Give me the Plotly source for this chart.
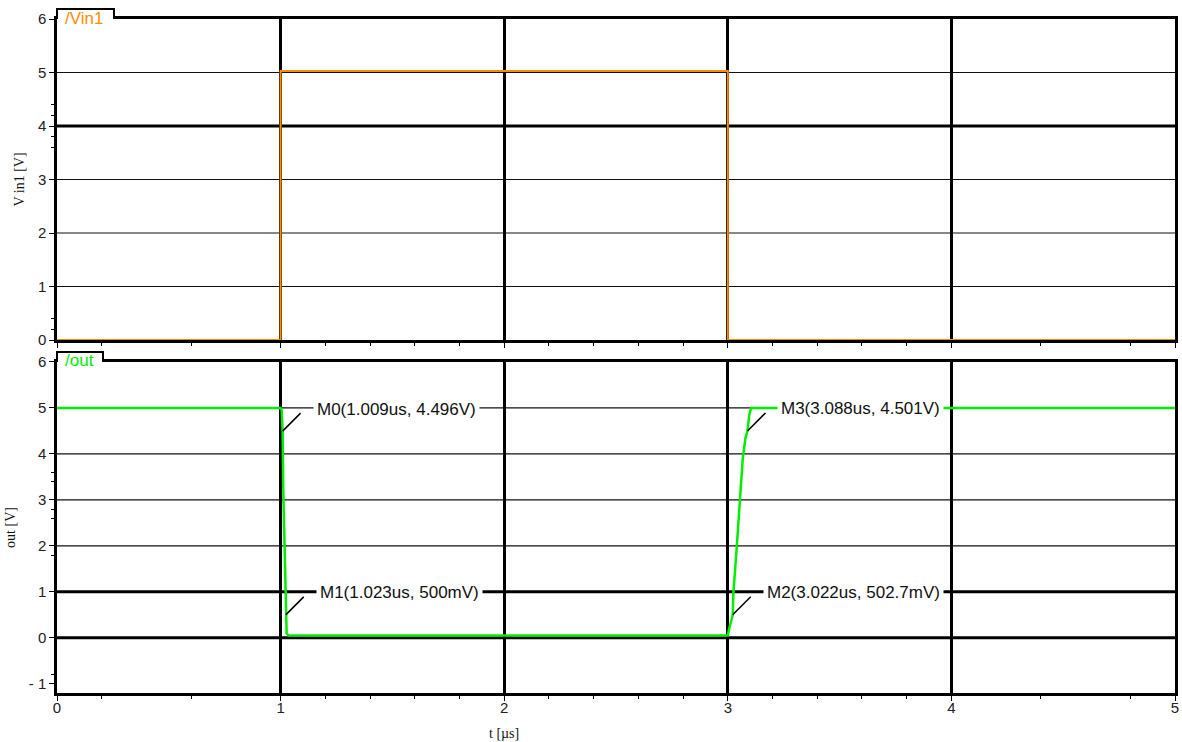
import plotly.graph_objects as go

# ---- data ----
t_vin = [0.0, 1.0, 1.0, 3.0, 3.0, 5.0]
v_vin = [0.0, 0.0, 5.03, 5.03, 0.0, 0.0]

t_out = [0.0, 1.0, 1.005, 1.009, 1.012, 1.018, 1.023, 1.027, 1.035,
         3.0, 3.006, 3.012, 3.017, 3.022, 3.025, 3.04, 3.055, 3.067, 3.079,
         3.088, 3.096, 3.104, 3.16, 5.0]
v_out = [5.0, 5.0, 4.95, 4.496, 3.2, 2.0, 0.5, 0.1, 0.05,
         0.05, 0.2, 0.35, 0.4, 0.5027, 0.97, 1.97, 2.97, 3.91, 4.35,
         4.501, 4.85, 5.0, 5.0, 5.0]

marker_t = [1.009, 1.023, 3.022, 3.088]
marker_v = [4.496, 0.5, 0.5027, 4.501]
marker_text = ["M0(1.009us, 4.496V)", "M1(1.023us, 500mV)",
               "M2(3.022us, 502.7mV)", "M3(3.088us, 4.501V)"]

x_ticks = [0, 1, 2, 3, 4, 5]
x_minor = [0.2, 0.6, 1.2, 1.4, 1.6, 1.8, 2.2, 2.4, 2.6, 2.8,
           3.2, 3.4, 3.6, 3.8, 4.4, 4.8]
y1_ticks = [0, 1, 2, 3, 4, 5, 6]
y1_minor = [0.2, 0.4, 3.6, 3.8, 4.2, 4.4]
y1_thin_grid = [1, 2, 3, 5]
y1_thick_grid = [4]
y2_ticks = [-1, 0, 1, 2, 3, 4, 5, 6]
y2_ticktext = ["- 1", "0", "1", "2", "3", "4", "5", "6"]
y2_minor = [-0.8, 1.8, 2.6, 2.8, 3.4, 3.6]
y2_thin_grid = [2, 3, 4, 5]
y2_thick_grid = [0, 1]

ORANGE = "#ff8c00"
GREEN = "#00ee00"
TICKFONT = dict(family="Liberation Sans, Arial, sans-serif", size=15, color="#222222")
SERIF = dict(family="Liberation Serif, Times New Roman, serif", size=14, color="#111111")
LABELFONT = dict(family="Liberation Sans, Arial, sans-serif", size=17, color="#111111")

fig = go.Figure()
fig.add_trace(go.Scatter(x=t_vin, y=v_vin, mode="lines", xaxis="x", yaxis="y",
                         line=dict(color=ORANGE, width=2), showlegend=False, hoverinfo="skip"))
fig.add_trace(go.Scatter(x=t_out, y=v_out, mode="lines", xaxis="x2", yaxis="y2",
                         line=dict(color=GREEN, width=2.5), showlegend=False, hoverinfo="skip"))

common_x = dict(range=[0, 5], tickvals=x_ticks, showgrid=True, gridcolor="black", gridwidth=3,
                showline=True, linecolor="black", linewidth=2.5, mirror=True,
                zeroline=False, ticks="outside", ticklen=5, tickcolor="black", automargin=False,
                minor=dict(tickvals=x_minor, ticks="outside", ticklen=3, tickcolor="black", showgrid=False),
                tickfont=TICKFONT)

fig.update_layout(
    width=1182, height=742,
    margin=dict(l=57, r=7, t=19, b=49, autoexpand=False),
    paper_bgcolor="white", plot_bgcolor="white",
    xaxis=dict(common_x, domain=[0, 1], anchor="y", showticklabels=False),
    xaxis2=dict(common_x, domain=[0, 1], anchor="y2", matches="x", showticklabels=True,
                ticklabelstandoff=-6),
    yaxis=dict(domain=[0.5237, 1.0], range=[0, 6], tickvals=y1_ticks, showgrid=False,
               showline=True, linecolor="black", linewidth=2.5, mirror=True, zeroline=False,
               ticks="outside", ticklen=5, tickcolor="black", tickfont=TICKFONT, automargin=False,
               minor=dict(tickvals=y1_minor, ticks="outside", ticklen=3, tickcolor="black", showgrid=False),
               title=dict(text="V in1 [V]", font=SERIF, standoff=10)),
    yaxis2=dict(domain=[0.0, 0.4911], range=[-1.2, 6], tickvals=y2_ticks, ticktext=y2_ticktext,
                showgrid=False, showline=True, linecolor="black", linewidth=2.5, mirror=True,
                zeroline=False, ticks="outside", ticklen=5, tickcolor="black", tickfont=TICKFONT,
                automargin=False,
                minor=dict(tickvals=y2_minor, ticks="outside", ticklen=3, tickcolor="black", showgrid=False),
                title=dict(text="out [V]", font=SERIF, standoff=10)),
)

shapes = []
for yv in y1_thin_grid:
    shapes.append(dict(type="line", xref="x domain", yref="y", x0=0, x1=1, y0=yv, y1=yv,
                       line=dict(color="#111111", width=1.2), layer="below"))
for yv in y1_thick_grid:
    shapes.append(dict(type="line", xref="x domain", yref="y", x0=0, x1=1, y0=yv, y1=yv,
                       line=dict(color="black", width=3), layer="below"))
for yv in y2_thin_grid:
    shapes.append(dict(type="line", xref="x2 domain", yref="y2", x0=0, x1=1, y0=yv, y1=yv,
                       line=dict(color="#111111", width=1.2), layer="below"))
for yv in y2_thick_grid:
    shapes.append(dict(type="line", xref="x2 domain", yref="y2", x0=0, x1=1, y0=yv, y1=yv,
                       line=dict(color="black", width=3), layer="below"))

# marker diagonals
for mt, mv in zip(marker_t, marker_v):
    shapes.append(dict(type="line", xref="x2", yref="y2", xsizemode="pixel", ysizemode="pixel",
                       xanchor=mt, yanchor=mv, x0=0, x1=18, y0=0, y1=18,
                       line=dict(color="black", width=1.5), layer="above"))

# signal name tabs
tabs = [("y domain", 57, "/Vin1", ORANGE), ("y2 domain", 46, "/out", GREEN)]
for yref, w, name, col in tabs:
    xr = "x domain" if yref == "y domain" else "x2 domain"
    shapes.append(dict(type="rect", xref=xr, yref=yref, xsizemode="pixel", ysizemode="pixel",
                       xanchor=0, yanchor=1, x0=1, x1=w - 1, y0=-8, y1=8,
                       fillcolor="white", line=dict(width=0), layer="above"))
    shapes.append(dict(type="path", xref=xr, yref=yref, xsizemode="pixel", ysizemode="pixel",
                       xanchor=0, yanchor=1, path=f"M 0,0 L 0,10 L {w},10 L {w},0",
                       line=dict(color="black", width=2), layer="above"))

annotations = []
for (yref, w, name, col) in tabs:
    xr = "x domain" if yref == "y domain" else "x2 domain"
    annotations.append(dict(xref=xr, yref=yref, x=0, y=1, xanchor="left", yanchor="middle",
                            xshift=6, yshift=1, text=name, showarrow=False,
                            font=dict(family="Liberation Sans, Arial, sans-serif", size=17, color=col)))
for mt, mv, txt in zip(marker_t, marker_v, marker_text):
    annotations.append(dict(xref="x2", yref="y2", x=mt, y=mv, xanchor="left", yanchor="middle",
                            xshift=30, yshift=22, text=txt, showarrow=False, bgcolor="white",
                            borderpad=3, font=LABELFONT))
annotations.append(dict(xref="x2", yref="paper", x=2, y=0, yshift=-40, xanchor="center",
                        yanchor="middle", text="t [µs]", showarrow=False, font=SERIF))

fig.update_layout(shapes=shapes, annotations=annotations)
fig.write_html("out.html", config={"displayModeBar": False},
               post_script="document.body.style.margin='0';document.body.style.padding='0';")
